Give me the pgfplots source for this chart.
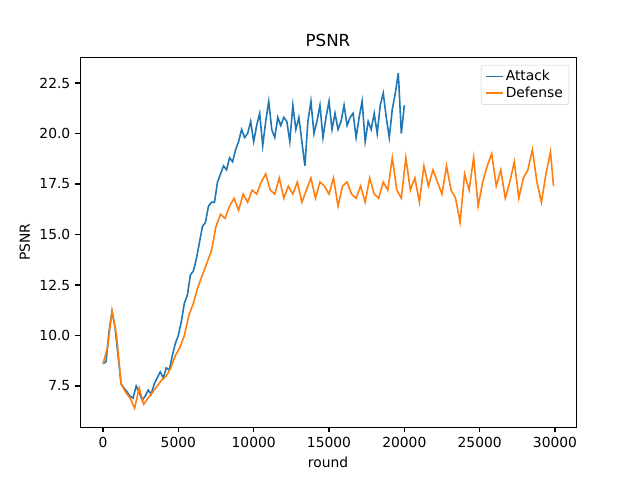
\documentclass[border=0pt]{standalone}
\usepackage{pgfplots}
\pgfplotsset{compat=1.18}
\usepackage{fontspec}
\setmainfont{DejaVu Sans}
\definecolor{cA}{HTML}{1F77B4}
\definecolor{cB}{HTML}{FF7F0E}
\begin{document}
\fontsize{13.9}{16}\selectfont
\begin{tikzpicture}
\begin{axis}[at={(0,0)},anchor=south west,scale only axis,
width=496bp,height=369.6bp,
xmin=-1527,xmax=31394,ymin=5.46,ymax=23.76,
xtick={0,5000,10000,15000,20000,25000,30000},
ytick={7.5,10,12.5,15,17.5,20,22.5},
yticklabel style={/pgf/number format/fixed,/pgf/number format/precision=1,/pgf/number format/fixed zerofill},
xticklabel style={/pgf/number format/fixed,/pgf/number format/1000 sep={}},
/pgf/number format/assume math mode=true,
scaled ticks=false,
tick align=outside,tick style={black,line width=1.1bp},
major tick length=4.9bp,
xtick pos=bottom,ytick pos=left,
title={\fontsize{16.7}{19}\selectfont PSNR},
xlabel={round},ylabel={PSNR},
legend style={at={(0.986,0.98)},anchor=north east,font=\fontsize{13.9}{16}\selectfont,draw=black!20,rounded corners=2bp,inner xsep=4bp,inner ysep=3bp},
legend cell align=left,
]
\addplot[cA,line width=1.6bp] coordinates {
(0,8.6)(200,8.7)(400,10.2)(600,11.2)(800,10.4)(1000,9.0)(1200,7.6)(1400,7.4)(1600,7.2)(1800,7.0)(2000,6.9)(2200,7.5)(2400,7.2)(2600,6.8)(2800,7.0)(3000,7.3)(3200,7.1)(3400,7.6)(3600,7.9)(3800,8.2)(4000,7.9)(4200,8.4)(4400,8.3)(4600,9.0)(4800,9.6)(5000,10.0)(5200,10.7)(5400,11.6)(5600,12.0)(5800,13.0)(6000,13.2)(6200,13.8)(6400,14.6)(6600,15.4)(6800,15.6)(7000,16.4)(7200,16.6)(7400,16.6)(7600,17.6)(7800,18.0)(8000,18.4)(8200,18.2)(8400,18.8)(8600,18.6)(8800,19.2)(9000,19.6)(9200,20.2)(9400,19.8)(9600,20.0)(9800,20.6)(10000,19.6)(10200,20.4)(10400,21.0)(10600,19.4)(10800,20.6)(11000,21.6)(11200,20.2)(11400,19.8)(11600,20.8)(11800,20.4)(12000,20.8)(12200,20.6)(12400,19.6)(12600,21.4)(12800,20.2)(13000,20.8)(13200,19.6)(13400,18.4)(13600,20.6)(13800,21.6)(14000,20.0)(14200,20.6)(14400,21.4)(14600,19.8)(14800,20.8)(15000,21.6)(15200,20.2)(15400,21.0)(15600,20.2)(15800,20.6)(16000,21.4)(16200,20.4)(16400,20.8)(16600,21.0)(16800,19.8)(17000,20.8)(17200,21.6)(17400,19.6)(17600,20.6)(17800,20.2)(18000,21.0)(18200,20.0)(18400,21.4)(18600,22.0)(18800,20.8)(19000,19.8)(19200,21.2)(19400,22.0)(19600,23.0)(19800,20.0)(20000,21.4)
};
\addlegendentry{Attack}
\addplot[cB,line width=1.6bp] coordinates {
(0,8.6)(300,9.4)(600,11.2)(900,10.0)(1200,7.6)(1500,7.2)(1800,6.9)(2100,6.4)(2400,7.4)(2700,6.6)(3000,6.9)(3300,7.2)(3600,7.5)(3900,7.8)(4200,8.0)(4500,8.4)(4800,9.0)(5100,9.4)(5400,10.0)(5700,11.0)(6000,11.6)(6300,12.4)(6600,13.0)(6900,13.6)(7200,14.2)(7500,15.4)(7800,16.0)(8100,15.8)(8400,16.4)(8700,16.8)(9000,16.2)(9300,17.0)(9600,16.6)(9900,17.2)(10200,17.0)(10500,17.6)(10800,18.0)(11100,17.2)(11400,17.0)(11700,17.8)(12000,16.8)(12300,17.4)(12600,17.0)(12900,17.6)(13200,16.6)(13500,17.2)(13800,17.8)(14100,16.8)(14400,17.6)(14700,17.4)(15000,17.0)(15300,17.8)(15600,16.4)(15900,17.4)(16200,17.6)(16500,17.0)(16800,16.8)(17100,17.4)(17400,16.6)(17700,17.8)(18000,17.0)(18300,16.8)(18600,17.6)(18900,17.2)(19200,18.8)(19500,17.2)(19800,16.8)(20100,18.8)(20400,17.2)(20700,17.8)(21000,16.6)(21300,18.4)(21600,17.4)(21900,18.2)(22200,17.6)(22500,17.0)(22800,18.4)(23100,17.2)(23400,16.8)(23700,15.6)(24000,18.0)(24300,17.2)(24600,18.8)(24900,16.4)(25200,17.6)(25500,18.4)(25800,19.0)(26100,17.4)(26400,18.2)(26700,16.8)(27000,17.6)(27300,18.6)(27600,16.8)(27900,17.8)(28200,18.2)(28500,19.2)(28800,17.6)(29100,16.6)(29400,18.0)(29700,19.1)(29900,17.4)
};
\addlegendentry{Defense}
\end{axis}
\useasboundingbox (-80bp,-52.8bp) rectangle (560bp,427.2bp);
\end{tikzpicture}
\end{document}
